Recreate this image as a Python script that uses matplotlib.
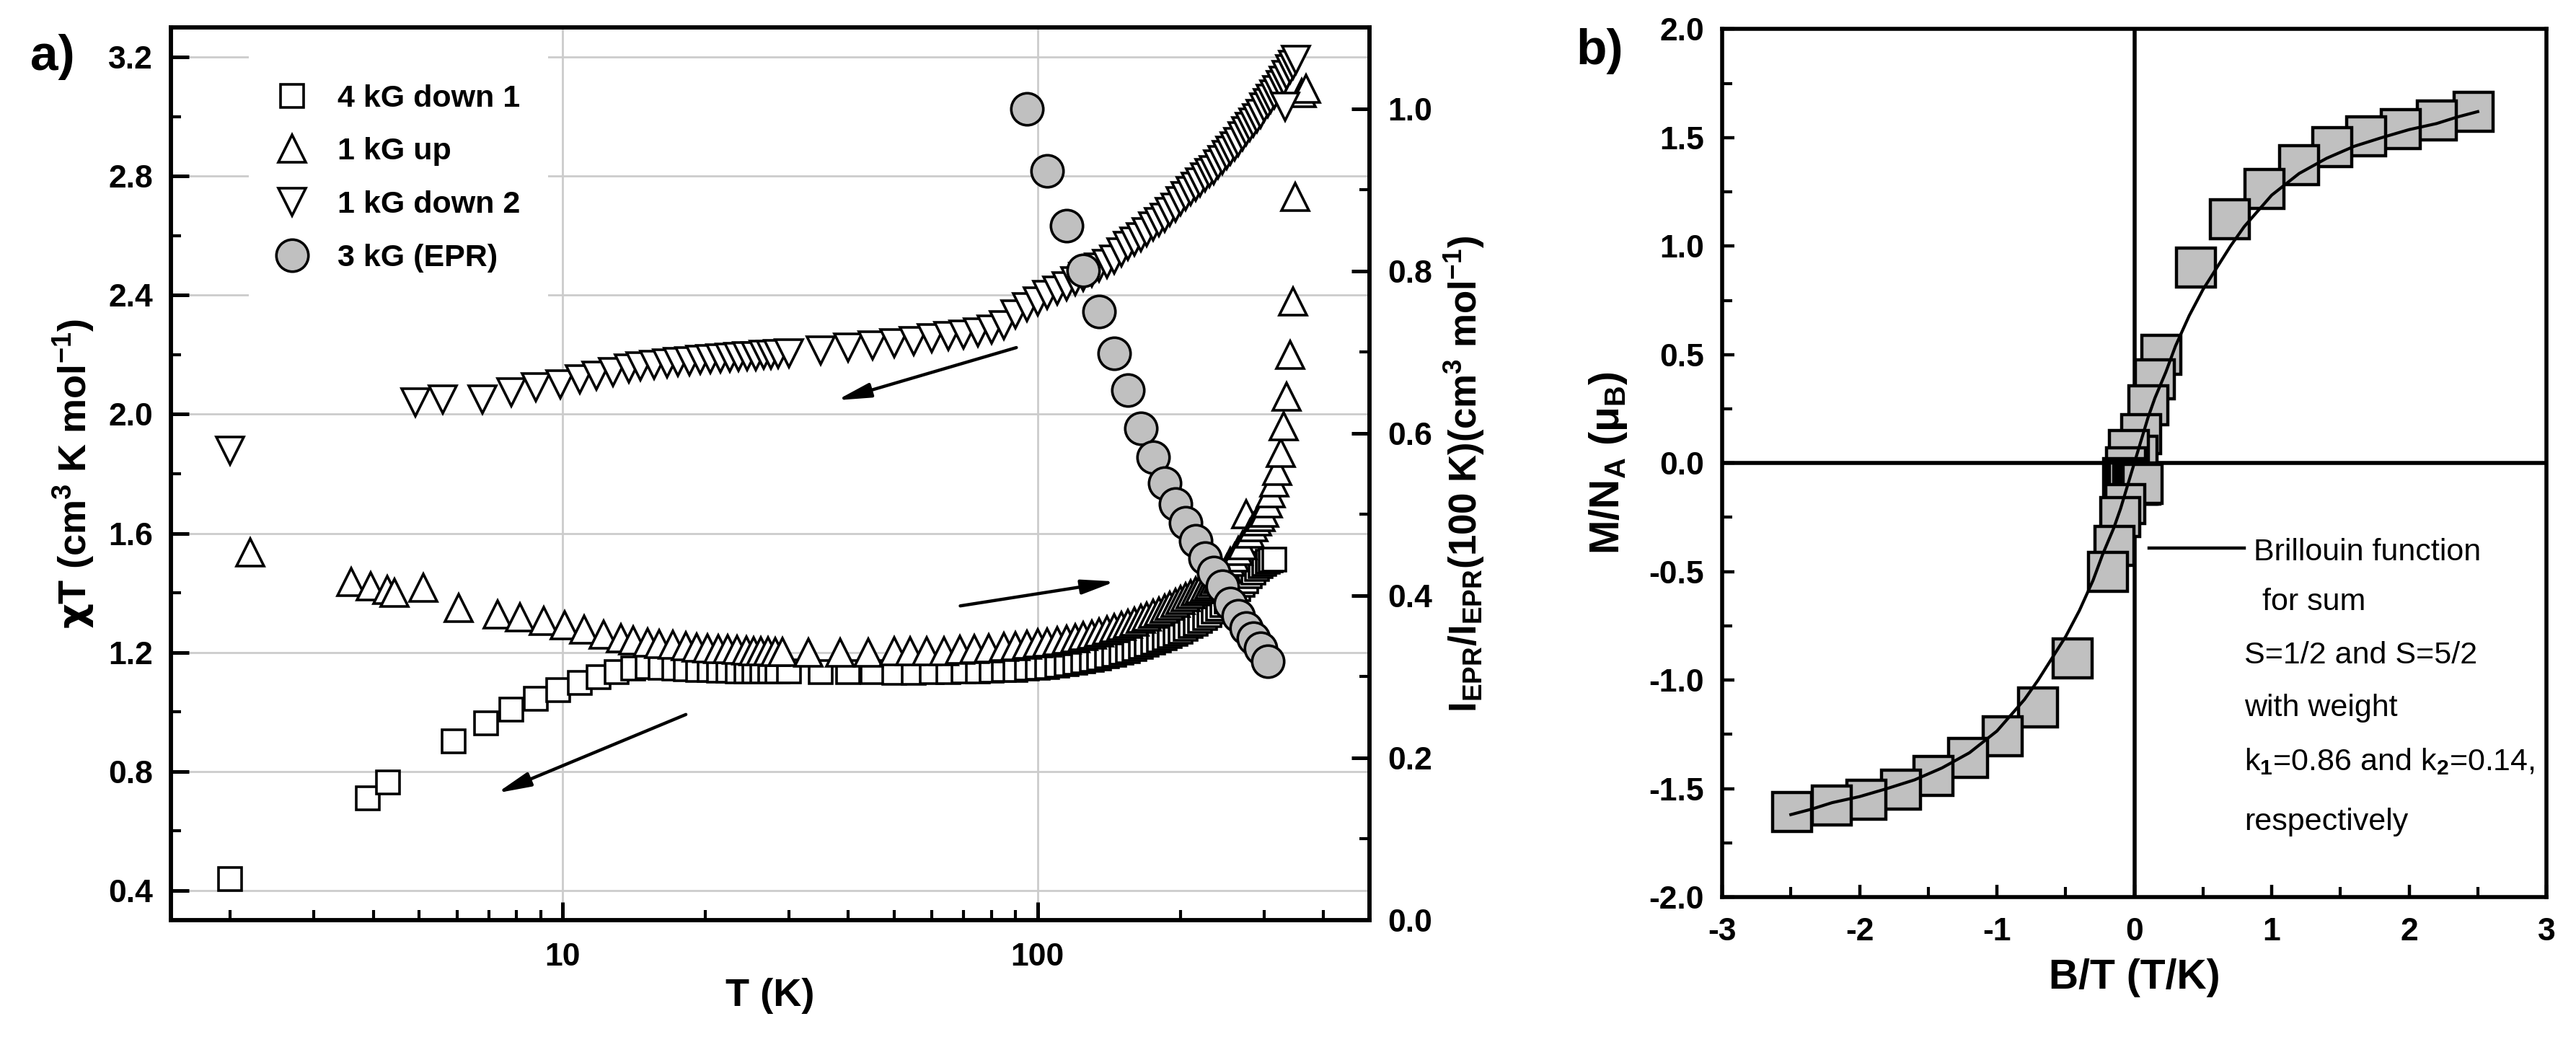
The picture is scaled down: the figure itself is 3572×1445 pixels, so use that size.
import numpy as np
import matplotlib
matplotlib.use('Agg')
import matplotlib.pyplot as plt
from matplotlib.ticker import MultipleLocator, LogLocator, NullFormatter, FixedLocator, FixedFormatter
from matplotlib.lines import Line2D

plt.rcParams['font.family'] = ['Liberation Sans', 'DejaVu Sans']
plt.rcParams['font.weight'] = 'bold'
plt.rcParams['axes.labelweight'] = 'bold'
plt.rcParams['mathtext.fontset'] = 'custom'
plt.rcParams['mathtext.rm'] = 'Liberation Sans'
plt.rcParams['mathtext.it'] = 'Liberation Sans:italic'
plt.rcParams['mathtext.bf'] = 'Liberation Sans:bold'
plt.rcParams['mathtext.sf'] = 'DejaVu Sans'

# ---- panel a data: chi*T vs T ----
t_down1 = [2.0, 3.9, 4.3, 5.9, 6.9, 7.8, 8.8, 9.8, 10.9, 11.9, 13.0, 14.1, 15.1, 16.1,
           17.2, 18.2, 19.3, 20.4, 21.4, 22.4, 23.4, 24.4, 25.4, 26.4, 27.4, 28.4,
           30, 35, 40, 45, 50, 55, 60, 65, 70, 75, 80, 85, 90, 95, 100, 105, 110,
           115, 120, 125, 130, 135, 140, 145, 150, 155, 160, 165, 170, 175, 180,
           185, 190, 195, 200, 205, 210, 215, 220, 225, 230, 235, 240, 245, 250,
           255, 260, 265, 270, 275, 280, 285, 290, 295, 300, 305, 310, 315]
chi_down1 = [0.437, 0.709, 0.764, 0.900, 0.962, 1.008, 1.044, 1.073, 1.097, 1.117,
             1.134, 1.146, 1.151, 1.148, 1.146, 1.143, 1.142, 1.140, 1.139, 1.138,
             1.137, 1.137, 1.136, 1.136, 1.135, 1.135, 1.135, 1.134, 1.133, 1.133,
             1.132, 1.132, 1.133, 1.134, 1.135, 1.136, 1.138, 1.140, 1.142, 1.145,
             1.148, 1.150, 1.155, 1.160, 1.165, 1.170, 1.175, 1.180, 1.186, 1.192,
             1.198, 1.205, 1.212, 1.219, 1.226, 1.233, 1.240, 1.247, 1.254, 1.262,
             1.270, 1.279, 1.288, 1.297, 1.306, 1.316, 1.326, 1.337, 1.348, 1.360,
             1.372, 1.385, 1.398, 1.412, 1.426, 1.440, 1.455, 1.468, 1.480, 1.490,
             1.498, 1.505, 1.510, 1.512]

t_up = [2.2, 3.6, 3.95, 4.28, 4.44, 5.1, 6.05, 7.3, 8.15, 9.15, 10.1, 11.1, 12.2,
        13.3, 14.1, 15.1, 16.0, 17.1, 18.2, 19.2, 20.2, 21.3, 22.3, 23.3, 24.4,
        25.3, 26.2, 27.1, 28.1, 29.1, 33, 38.5, 44, 50, 54, 58.5, 63.7, 68.6, 73.6,
        79, 85, 90, 95, 100, 105, 110, 115, 120, 125, 130, 135, 140, 145, 150, 155,
        160, 165, 170, 175, 180, 185, 190, 195, 200, 205, 210, 215, 220, 225, 230,
        235, 240, 245, 250, 255, 260, 265, 270, 275, 280, 285, 290, 295, 300, 305,
        310, 315, 320, 325, 330, 335, 340, 345, 349, 360, 367]
chi_up = [1.536, 1.436, 1.421, 1.411, 1.400, 1.416, 1.350, 1.327, 1.317, 1.305,
          1.290, 1.277, 1.260, 1.247, 1.240, 1.234, 1.229, 1.225, 1.221, 1.217,
          1.214, 1.212, 1.210, 1.208, 1.206, 1.205, 1.204, 1.203, 1.202, 1.201,
          1.200, 1.200, 1.200, 1.203, 1.203, 1.204, 1.205, 1.208, 1.210, 1.213,
          1.218, 1.222, 1.226, 1.230, 1.234, 1.238, 1.243, 1.248, 1.254, 1.260,
          1.267, 1.274, 1.281, 1.288, 1.296, 1.304, 1.312, 1.320, 1.329, 1.338,
          1.347, 1.356, 1.366, 1.376, 1.386, 1.396, 1.404, 1.412, 1.420, 1.428,
          1.436, 1.445, 1.460, 1.480, 1.505, 1.520, 1.540, 1.560, 1.664, 1.600,
          1.620, 1.640, 1.655, 1.670, 1.700, 1.735, 1.770, 1.810, 1.870, 1.960,
          2.060, 2.200, 2.380, 2.730, 3.080, 3.095]

t_down2 = [2.0, 4.9, 5.6, 6.8, 7.8, 8.8, 9.9, 10.9, 11.8, 12.8, 13.8, 14.6, 15.6,
           16.6, 17.5, 18.5, 19.5, 20.5, 21.5, 22.5, 23.5, 24.5, 25.5, 26.5, 27.5,
           28.5, 30, 35, 40, 45, 50, 55, 60, 65, 70, 75, 80, 85, 90, 95, 100, 105,
           110, 115, 120, 125, 130, 135, 140, 145, 150, 155, 160, 165, 170, 175,
           180, 185, 190, 195, 200, 205, 210, 215, 220, 225, 230, 235, 240, 245,
           250, 255, 260, 265, 270, 275, 280, 285, 290, 295, 300, 305, 310, 315,
           320, 325, 330, 332, 335, 340, 345, 350]
chi_down2 = [1.878, 2.040, 2.050, 2.050, 2.075, 2.090, 2.100, 2.118, 2.130, 2.142,
             2.153, 2.160, 2.165, 2.170, 2.175, 2.178, 2.182, 2.185, 2.187, 2.190,
             2.192, 2.194, 2.196, 2.199, 2.200, 2.202, 2.205, 2.215, 2.225, 2.232,
             2.238, 2.246, 2.255, 2.262, 2.268, 2.275, 2.285, 2.300, 2.335, 2.360,
             2.380, 2.400, 2.415, 2.430, 2.448, 2.462, 2.477, 2.492, 2.505, 2.520,
             2.545, 2.565, 2.580, 2.595, 2.612, 2.630, 2.645, 2.660, 2.680, 2.695,
             2.715, 2.732, 2.750, 2.765, 2.780, 2.795, 2.810, 2.820, 2.840, 2.855,
             2.870, 2.885, 2.900, 2.915, 2.935, 2.950, 2.965, 2.980, 2.995, 3.010,
             3.030, 3.045, 3.060, 3.075, 3.090, 3.105, 3.120, 3.033, 3.140, 3.160,
             3.175, 3.190]

t_epr = [95, 105, 115, 125, 135, 145, 155, 165, 175, 185, 195, 205, 215, 225, 235,
         245, 255, 265, 275, 285, 295, 305]
i_epr = [1.000, 0.923, 0.856, 0.801, 0.750, 0.698, 0.653, 0.606, 0.570, 0.538,
         0.513, 0.490, 0.467, 0.446, 0.428, 0.411, 0.390, 0.375, 0.360, 0.347,
         0.335, 0.319]

labels_a = ['4 kG down 1', '1 kG up', '1 kG down 2', '3 kG (EPR)']

# ---- panel b data: magnetisation vs B/T ----
bt = [2.47, 2.20, 1.94, 1.69, 1.44, 1.20, 0.945, 0.695, 0.45, 0.195, 0.15, 0.10,
      0.05, 0.026, -0.04, -0.06, -0.08, -0.07, -0.05, -0.04, -0.01, 0.0, 0.02, 0.03,
      0.045, 0.06, -0.066, -0.10, -0.146, -0.193, -0.45, -0.70, -0.96, -1.21, -1.46,
      -1.70, -1.95, -2.20, -2.49]
mag = [1.62, 1.58, 1.54, 1.505, 1.455, 1.375, 1.265, 1.125, 0.90, 0.50, 0.385,
       0.265, 0.135, 0.035, 0.06, -0.02, -0.07, -0.08, -0.085, -0.09, -0.095, -0.09,
       -0.10, -0.10, -0.10, -0.095, -0.19, -0.25, -0.38, -0.50, -0.90, -1.127, -1.259,
       -1.357, -1.443, -1.504, -1.55, -1.577, -1.608]

fit_bt = [-2.5, -2.35, -2.2, -2.0, -1.8, -1.6, -1.4, -1.2, -1.0, -0.8, -0.7, -0.6,
          -0.5, -0.4, -0.3, -0.23, -0.15, -0.1, -0.05, 0.0, 0.05, 0.1, 0.15, 0.23,
          0.3, 0.4, 0.5, 0.6, 0.7, 0.8, 1.0, 1.2, 1.4, 1.6, 1.8, 2.0, 2.2, 2.35, 2.5]
fit_mag = [-1.62, -1.595, -1.565, -1.537, -1.50, -1.46, -1.405, -1.335, -1.235,
           -1.09, -1.00, -0.90, -0.80, -0.68, -0.54, -0.42, -0.30, -0.21, -0.105,
           0.0, 0.105, 0.21, 0.30, 0.42, 0.54, 0.68, 0.80, 0.90, 1.00, 1.09, 1.235,
           1.335, 1.405, 1.46, 1.50, 1.537, 1.565, 1.595, 1.62]

note_lines = ['Brillouin function', ' for sum', 'S=1/2 and S=5/2', 'with weight',
              'k$_1$=0.86 and k$_2$=0.14,', 'respectively']
note_y = [-0.41, -0.64, -0.885, -1.13, -1.375, -1.655]

fig = plt.figure(figsize=(17.865, 7.225), dpi=200)

# ================= panel a =================
ax = fig.add_axes([0.06633, 0.11696, 0.46515, 0.85675])
ax2 = ax.twinx()

ms_kw = dict(linestyle='none', mec='black', mew=1.3, mfc='white')
ax.plot(t_down1, chi_down1, marker='s', ms=11.5, **ms_kw)
ax.plot(t_up, chi_up, marker='^', ms=14, **ms_kw)
ax.plot(t_down2, chi_down2, marker='v', ms=14, **ms_kw)
ax2.plot(t_epr, i_epr, linestyle='none', marker='o', ms=16, mfc='#c0c0c0',
         mec='black', mew=1.3)

ax.set_xscale('log')
ax.set_xlim(1.5, 500)
ax.set_ylim(0.3, 3.3)
ax2.set_ylim(0.0, 1.1)
ax.xaxis.set_major_locator(FixedLocator([10, 100]))
ax.xaxis.set_major_formatter(FixedFormatter(['10', '100']))
ax.xaxis.set_minor_locator(LogLocator(base=10, subs=np.arange(2, 10)))
ax.xaxis.set_minor_formatter(NullFormatter())
ax.yaxis.set_major_locator(MultipleLocator(0.4))
ax.yaxis.set_minor_locator(MultipleLocator(0.2))
ax2.yaxis.set_major_locator(MultipleLocator(0.2))
ax2.yaxis.set_minor_locator(MultipleLocator(0.1))
ax.yaxis.set_major_formatter(plt.FormatStrFormatter('%.1f'))
ax2.yaxis.set_major_formatter(plt.FormatStrFormatter('%.1f'))

ax.grid(True, which='major', color='#cccccc', lw=1.0)
ax.set_axisbelow(True)

for a in (ax, ax2):
    for s in a.spines.values():
        s.set_linewidth(2.0)
ax.tick_params(which='major', direction='in', length=9, width=1.8, labelsize=16,
               top=False, right=False)
ax.tick_params(which='minor', direction='in', length=5, width=1.5,
               top=False, right=False)
ax.tick_params(axis='x', which='major', pad=11)
ax.tick_params(axis='y', which='major', pad=9)
ax2.tick_params(which='major', direction='in', length=9, width=1.8, labelsize=16, pad=9)
ax2.tick_params(which='minor', direction='in', length=5, width=1.5)

ax.set_xlabel('T (K)', fontsize=19.5, labelpad=3)
ax.set_ylabel(r'$\mathsf{\chi}$T (cm$\mathbf{^{3}}$ K mol$\mathbf{^{-1}}$)', fontsize=19.5, labelpad=6)
ax2.set_ylabel(r'I$\mathbf{_{EPR}}$/I$\mathbf{_{EPR}}$(100 K)(cm$\mathbf{^{3}}$ mol$\mathbf{^{-1}}$)',
               fontsize=19, labelpad=5)

# arrows showing sweep direction
arw = dict(arrowstyle='-|>,head_length=1.4,head_width=0.3', color='black', lw=1.6,
           mutation_scale=10, shrinkA=0, shrinkB=0)
ax.annotate('', xy=(37.8, 2.047), xytext=(90.3, 2.224), arrowprops=arw)
ax.annotate('', xy=(146, 1.438), xytext=(68.8, 1.356), arrowprops=arw)
ax.annotate('', xy=(7.28, 0.727), xytext=(18.2, 0.991), arrowprops=arw)

handles = [Line2D([], [], marker='s', ms=11.5, **ms_kw),
           Line2D([], [], marker='^', ms=14, **ms_kw),
           Line2D([], [], marker='v', ms=14, **ms_kw),
           Line2D([], [], linestyle='none', marker='o', ms=16, mfc='#c0c0c0',
                  mec='black', mew=1.3)]
leg = ax2.legend(handles, labels_a, loc='upper left', bbox_to_anchor=(0.052, 0.985),
                 frameon=True, fancybox=False, edgecolor='none', facecolor='white',
                 framealpha=1, fontsize=15.5, handlelength=1.0, handletextpad=0.95,
                 labelspacing=0.78, borderpad=0.9)

fig.text(0.0204, 0.9453, 'a)', fontsize=25, ha='center', va='center')

# ================= panel b =================
bx = fig.add_axes([0.66835, 0.1391, 0.3199, 0.8329])
bx.axhline(0, color='black', lw=2.0, zorder=1)
bx.axvline(0, color='black', lw=2.0, zorder=1)
bx.plot(bt, mag, linestyle='none', marker='s', ms=19.5, mfc='#c0c0c0', mec='black',
        mew=1.6, zorder=2)
bx.plot(fit_bt, fit_mag, color='black', lw=1.5, zorder=3)

bx.set_xlim(-3, 3)
bx.set_ylim(-2, 2)
bx.xaxis.set_major_locator(MultipleLocator(1))
bx.xaxis.set_minor_locator(MultipleLocator(0.5))
bx.yaxis.set_major_locator(MultipleLocator(0.5))
bx.yaxis.set_minor_locator(MultipleLocator(0.25))
bx.xaxis.set_major_formatter(plt.FormatStrFormatter('%d'))
bx.yaxis.set_major_formatter(plt.FormatStrFormatter('%.1f'))
for s in bx.spines.values():
    s.set_linewidth(2.0)
bx.tick_params(which='major', direction='in', length=6, width=1.6, labelsize=16,
               top=False, right=False)
bx.tick_params(which='minor', direction='in', length=5, width=1.5,
               top=False, right=False)
bx.tick_params(axis='x', which='major', pad=10)
bx.tick_params(axis='y', which='major', pad=9)
bx.set_xlabel('B/T (T/K)', fontsize=20.5, labelpad=6)
bx.set_ylabel(r'M/N$\mathbf{_A}$ (μ$\mathbf{_B}$)', fontsize=20.5, labelpad=10)

bx.plot([0.11, 0.80], [-0.39, -0.39], color='black', lw=1.6)
for i, (txt, yy) in enumerate(zip(note_lines, note_y)):
    xx = 0.87 if i < 2 else 0.80
    bx.text(xx, yy, txt, fontsize=15.5, fontweight='normal', ha='left', va='center')

fig.text(0.6208, 0.9509, 'b)', fontsize=25, ha='center', va='center')

fig.savefig('out.png', dpi=200)
